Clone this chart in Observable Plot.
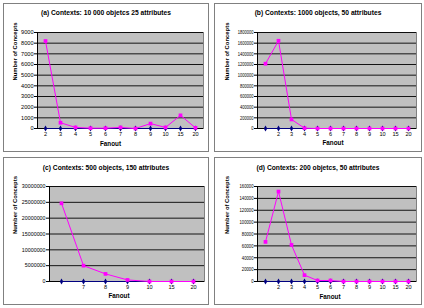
<!DOCTYPE html>
<html><head><meta charset="utf-8">
<script src="https://cdn.jsdelivr.net/npm/d3@7"></script>
<script src="https://cdn.jsdelivr.net/npm/@observablehq/plot@0.6"></script>
<style>
body{margin:0;background:#fff;font-family:"Liberation Sans",Arial,sans-serif;}
#root{position:relative;width:424px;height:308px;overflow:hidden;}
.panel{position:absolute;box-sizing:border-box;border:1px solid #808080;background:#fff;}
.title{position:absolute;left:0;right:0;text-align:center;font-weight:bold;font-size:6.7px;line-height:8px;white-space:nowrap;color:#000;}
.panel svg{position:absolute;left:0;}
</style>
</head><body><div id="root"></div>
<script>
// ---- data ----
const titleA = "(a) Contexts: 10 000 objetcs 25 attributes";
const fanoutA = ["2","3","4","5","6","7","8","9","10","15","20"];
const conceptsA = [8200, 540, 100, 30, 30, 100, 0, 460, 100, 1230, 60];
const baseA = [0,0,0,0,0,0,0,0,0,0,0];
const yTicksA = [0,1000,2000,3000,4000,5000,6000,7000,8000,9000];
const yLabelsA = ["0","1000","2000","3000","4000","5000","6000","7000","8000","9000"];

const titleB = "(b) Contexts: 1000 objects, 50 attributes";
const fanoutB = ["","2","3","4","5","6","7","8","9","10","15","20"];
const conceptsB = [1215000, 1645000, 170000, 6000, 0, 0, 0, 0, 0, 0, 0, 0];
const baseB = [0,0,0,0,0,0,0,0,0,0,0,0];
const yTicksB = [0,200000,400000,600000,800000,1000000,1200000,1400000,1600000,1800000];
const yLabelsB = ["0","200000","400000","600000","800000","1000000","1200000","1400000","1600000","1800000"];

const titleC = "(c) Contexts: 500 objects, 150 attributes";
const fanoutC = ["","7","8","9","10","15","20"];
const conceptsC = [24700000, 5000000, 2400000, 500000, 0, 0, 0];
const baseC = [0,0,0,0,0,0,0];
const yTicksC = [0,5000000,10000000,15000000,20000000,25000000,30000000];
const yLabelsC = ["0","5000000","10000000","15000000","20000000","25000000","30000000"];

const titleD = "(d) Contexts: 200 objetcs, 50 attributes";
const fanoutD = ["","2","3","4","5","6","7","8","9","10","15","20"];
const conceptsD = [66700, 151500, 61600, 10700, 1700, 1700, 0, 0, 0, 0, 0, 0];
const baseD = [0,0,0,0,0,0,0,0,0,0,0,0];
const yTicksD = [0,20000,40000,60000,80000,100000,120000,140000,160000];
const yLabelsD = ["0","20000","40000","60000","80000","100000","120000","140000","160000"];

const yTitle = "Number of Concepts";
const xTitle = "Fanout";

// ---- layout ----
const panels = [
  {title:titleA, fan:fanoutA, vals:conceptsA, base:baseA, ticks:yTicksA, labels:yLabelsA,
   left:3, top:3, w:206, h:149, titleTop:5, svgTop:17, svgW:204, svgH:128, mL:33, mR:5, mT:11, mB:21, yx:11, fdx:-10, fdy:17, squeeze:1},
  {title:titleB, fan:fanoutB, vals:conceptsB, base:baseB, ticks:yTicksB, labels:yLabelsB,
   left:214, top:3, w:208, h:149, titleTop:5, svgTop:17, svgW:206, svgH:128, mL:42, mR:5, mT:11, mB:21, yx:12, fdx:-4, fdy:16, squeeze:0.72},
  {title:titleC, fan:fanoutC, vals:conceptsC, base:baseC, ticks:yTicksC, labels:yLabelsC,
   left:3, top:157, w:206, h:148, titleTop:6, svgTop:17, svgW:204, svgH:128, mL:45, mR:4, mT:11, mB:22, yx:11, fdx:-8, fdy:16, squeeze:0.95},
  {title:titleD, fan:fanoutD, vals:conceptsD, base:baseD, ticks:yTicksD, labels:yLabelsD,
   left:214, top:157, w:208, h:148, titleTop:6, svgTop:17, svgW:206, svgH:128, mL:42, mR:5, mT:11, mB:22, yx:12, fdx:-7, fdy:17, squeeze:0.75}
];

const root = document.getElementById("root");
for (const p of panels) {
  const div = document.createElement("div");
  div.className = "panel";
  Object.assign(div.style, {left:p.left+"px", top:p.top+"px", width:p.w+"px", height:p.h+"px"});
  const t = document.createElement("div");
  t.className = "title";
  t.style.top = p.titleTop + "px";
  t.textContent = p.title;
  div.appendChild(t);

  const rows = p.fan.map((f, i) => ({f, v: p.vals[i], b: p.base[i]}));
  const ymax = p.ticks[p.ticks.length - 1];
  const labelOf = new Map(p.ticks.map((v, i) => [v, p.labels[i]]));

  const svg = Plot.plot({
    width: p.svgW, height: p.svgH,
    marginLeft: p.mL, marginRight: p.mR, marginTop: p.mT, marginBottom: p.mB,
    style: {fontFamily: '"Liberation Sans", Arial, sans-serif', fontSize: "5.6px", background: "transparent", color: "#000", overflow: "visible"},
    x: {type: "point", domain: p.fan, padding: 0.5},
    y: {domain: [0, ymax]},
    marks: [
      Plot.frame({fill: "#c0c0c0", stroke: "#808080"}),
      Plot.gridY(p.ticks, {stroke: "#000", strokeOpacity: 1, strokeWidth: 0.9}),
      Plot.frame({anchor: "left", stroke: "#000"}),
      Plot.ruleY([0], {stroke: "#000"}),
      Plot.axisY(p.ticks, {tickSize: 3, tickPadding: 1, tickFormat: d => labelOf.get(d), label: null, stroke: "#000"}),
      Plot.axisX({tickSize: 0, tickPadding: 4, label: null}),
      Plot.line(rows, {x: "f", y: "b", stroke: "#000080", strokeWidth: 1}),
      Plot.dot(rows, {x: "f", y: "b", symbol: "diamond", r: 1.8, fill: "#000080", stroke: "none"}),
      Plot.line(rows, {x: "f", y: "v", stroke: "#ff00ff", strokeWidth: 1}),
      Plot.dot(rows, {x: "f", y: "v", symbol: "square", r: 2.1, fill: "#ff00ff", stroke: "none"}),
      Plot.text([yTitle], {frameAnchor: "left", dx: p.yx - p.mL, rotate: -90, fontWeight: "bold", fontSize: 5.9, fill: "#000"}),
      Plot.text([xTitle], {frameAnchor: "bottom", dx: p.fdx, dy: p.fdy, fontWeight: "bold", fontSize: 6.3, fill: "#000"})
    ]
  });
  svg.style.top = p.svgTop + "px";
  div.appendChild(svg);
  root.appendChild(div);

  if (p.squeeze !== 1) {
    d3.select(svg).selectAll('g[aria-label="y-axis tick label"] text').each(function() {
      const len = this.getComputedTextLength();
      if (len > 0) {
        this.setAttribute("textLength", (len * p.squeeze).toFixed(2));
        this.setAttribute("lengthAdjust", "spacingAndGlyphs");
      }
    });
  }
}
</script>
</body></html>
